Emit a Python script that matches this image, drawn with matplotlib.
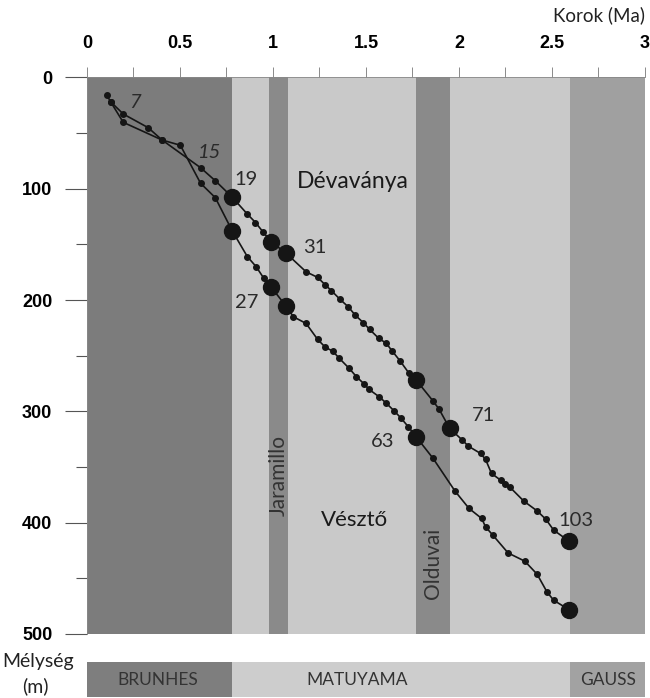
import numpy as np
import matplotlib
matplotlib.use('Agg')
import matplotlib.pyplot as plt

# Dévaványa core: age (Ma) vs depth (m)
dev_age = [0.127, 0.195, 0.329, 0.404, 0.611, 0.690, 0.78, 0.862, 0.906, 0.947, 0.99, 1.07,
           1.178, 1.240, 1.282, 1.314, 1.359, 1.405, 1.442, 1.485, 1.520, 1.568, 1.609, 1.641,
           1.684, 1.732, 1.77, 1.861, 1.893, 1.95, 2.018, 2.050, 2.116, 2.143, 2.175, 2.224,
           2.247, 2.272, 2.349, 2.420, 2.468, 2.509, 2.59]
dev_depth = [21.8, 32.8, 45.1, 56.2, 81.1, 92.8, 107.4, 122.7, 130.3, 138.9, 147.6, 157.8,
             174.6, 179.6, 186.5, 191.5, 199.1, 206.1, 213.5, 220.2, 226.4, 234.3, 238.8, 245.8,
             254.8, 265.9, 271.9, 290.8, 298.0, 315.3, 325.8, 331.2, 337.8, 343.2, 355.8, 361.8,
             364.8, 367.8, 380.7, 389.4, 397.1, 406.7, 416.4]

# Vésztő core
ves_age = [0.106, 0.127, 0.195, 0.404, 0.502, 0.611, 0.690, 0.78, 0.862, 0.910, 0.951, 0.99,
           1.07, 1.110, 1.178, 1.240, 1.282, 1.321, 1.357, 1.410, 1.449, 1.491, 1.517, 1.571,
           1.607, 1.651, 1.687, 1.728, 1.77, 1.861, 1.979, 2.054, 2.122, 2.143, 2.182, 2.264,
           2.354, 2.420, 2.473, 2.509, 2.59]
ves_depth = [15.7, 21.8, 40.3, 56.2, 60.9, 95.1, 108.0, 137.5, 160.9, 170.1, 180.5, 188.3,
             205.4, 215.0, 221.0, 235.3, 242.5, 245.8, 252.4, 261.4, 268.9, 275.5, 280.3, 286.9,
             292.3, 299.5, 305.8, 313.9, 322.9, 342.3, 371.7, 387.2, 396.2, 403.8, 411.2, 427.2,
             434.6, 446.3, 462.2, 469.7, 478.0]

# chron boundaries where large dots are drawn
boundaries = [0.78, 0.99, 1.07, 1.77, 1.95, 2.59]

# polarity chrons (start, end, colour)
chrons = [(0, 0.78, '#7c7c7c'), (0.78, 2.595, '#c9c9c9'), (0.98, 1.08, '#8a8a8a'),
          (1.77, 1.95, '#8a8a8a'), (2.595, 3.0, '#a0a0a0')]
bar_chrons = [(0, 0.78, '#7e7e7e'), (0.78, 2.595, '#cdcdcd'), (2.595, 3.0, '#a2a2a2')]
bar_names = ['BRUNHES', 'MATUYAMA', 'GAUSS']
bar_pos = [0.38, 1.45, 2.80]

sample_labels = ['7', '15', '19', '31', '27', '63', '71', '103']
sample_pos = [(0.257, 22.7), (0.660, 67.6), (0.853, 91.5), (1.223, 152.6), (0.856, 202.4),
              (1.589, 327.4), (2.134, 304.0), (2.631, 397.8)]

light = ['Lato', 'DejaVu Sans']
bold = ['Liberation Sans', 'DejaVu Sans']

fig = plt.figure(figsize=(6.5, 6.98), dpi=100)
ax = fig.add_axes([0.1338, 0.0917, 0.8585, 0.7973])

for a0, a1, c in chrons:
    ax.axvspan(a0, a1, color=c, lw=0, zorder=0)

for age, depth in [(dev_age, dev_depth), (ves_age, ves_depth)]:
    age = np.array(age); depth = np.array(depth)
    ax.plot(age, depth, '-o', color='#151515', lw=1.2, ms=4, zorder=3)
    big = np.isin(age, boundaries)
    ax.plot(age[big], depth[big], 'o', color='#151515', ms=11.5, zorder=4)

for lab, (x, y) in zip(sample_labels, sample_pos):
    st = 'italic' if lab in ('7', '15') else 'normal'
    ax.text(x, y, lab, fontsize=14.5, family=light, style=st, color='#2a2a2a',
            ha='center', va='center', zorder=5)

ax.text(1.428, 93.7, 'Dévaványa', fontsize=16.5, family=light, color='#1a1a1a',
        ha='center', va='center')
ax.text(1.437, 397.8, 'Vésztő', fontsize=16, family=light, color='#1a1a1a',
        ha='center', va='center')
ax.text(1.03, 358, 'Jaramillo', fontsize=15, family=light, color='#333333',
        rotation=90, ha='center', va='center')
ax.text(1.86, 437, 'Olduvai', fontsize=15, family=light, color='#333333',
        rotation=90, ha='center', va='center')

ax.set_xlim(0, 3)
ax.set_ylim(500, 0)
ax.xaxis.tick_top()
ax.set_xticks(np.arange(0, 3.01, 0.5))
ax.set_xticks(np.arange(0, 3.01, 0.25), minor=True)
ax.set_xticklabels(['0', '0.5', '1', '1.5', '2', '2.5', '3'])
ax.set_yticks(np.arange(0, 501, 100))
ax.set_yticks(np.arange(0, 501, 50), minor=True)
ax.tick_params(axis='x', which='both', direction='out', length=7, width=0.6,
               color='#777777', pad=11, labelsize=13)
ax.tick_params(axis='y', which='major', direction='out', length=16, width=0.8,
               color='#555555', pad=9, labelsize=13)
ax.tick_params(axis='y', which='minor', direction='out', length=8, width=0.8, color='#555555')
for lab in ax.get_xticklabels() + ax.get_yticklabels():
    lab.set_family(bold)
    lab.set_fontweight('bold')
for s in ['right', 'bottom']:
    ax.spines[s].set_visible(False)
for s in ['top', 'left']:
    ax.spines[s].set_color('#888888')
    ax.spines[s].set_linewidth(0.6)

# polarity bar
bx = fig.add_axes([0.1338, 0.0014, 0.8585, 0.0501])
for (a0, a1, c), name, p in zip(bar_chrons, bar_names, bar_pos):
    bx.axvspan(a0, a1, color=c, lw=0)
    bx.text(p, 0.5, name, fontsize=12.5, family=light, color='#333333',
            ha='center', va='center')
bx.set_xlim(0, 3)
bx.set_ylim(0, 1)
bx.axis('off')

fig.text(0.992, 1 - 15 / 698, 'Korok (Ma)', fontsize=13.5, family=light,
         color='#222222', ha='right', va='center')
fig.text(0.004, 1 - 661 / 698, 'Mélység', fontsize=14, family=light,
         color='#222222', ha='left', va='center')
fig.text(0.054, 1 - 686 / 698, '(m)', fontsize=14, family=light,
         color='#222222', ha='center', va='center')

fig.savefig('out.png', dpi=100)
